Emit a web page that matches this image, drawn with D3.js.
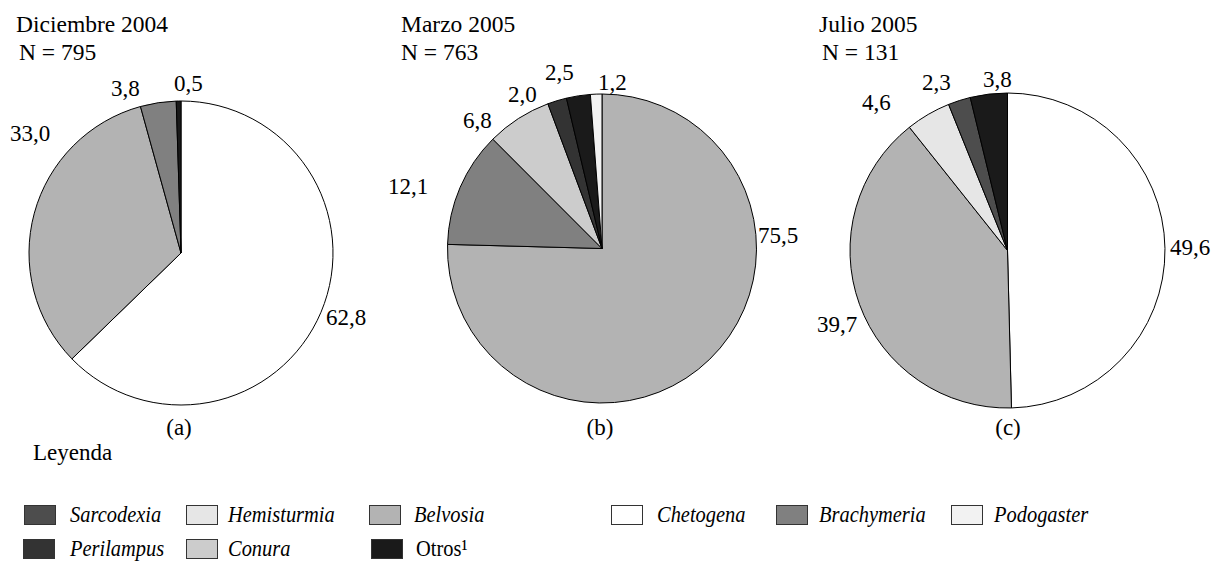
<!DOCTYPE html>
<html>
<head>
<meta charset="utf-8">
<script src="https://cdn.jsdelivr.net/npm/d3@7/dist/d3.min.js"></script>
<style>
  html, body { margin: 0; padding: 0; background: #fff; }
  svg { display: block; }
</style>
</head>
<body>
<svg id="chart" width="1225" height="562"></svg>
<script>
// ---------- DATA ----------
const species = ["Sarcodexia", "Hemisturmia", "Belvosia", "Chetogena", "Brachymeria", "Podogaster", "Perilampus", "Conura", "Otros"];
const speciesColors = ["#4d4d4d", "#e6e6e6", "#b3b3b3", "#ffffff", "#808080", "#f2f2f2", "#333333", "#cccccc", "#1a1a1a"];

const titles = ["Diciembre 2004", "Marzo 2005", "Julio 2005"];
const sampleSizes = [795, 763, 131];
const panelLetters = ["(a)", "(b)", "(c)"];

const dic2004Cats = ["Chetogena", "Belvosia", "Brachymeria", "Otros"];
const dic2004Vals = [62.8, 33.0, 3.8, 0.5];

const mar2005Cats = ["Belvosia", "Brachymeria", "Conura", "Perilampus", "Otros", "Podogaster"];
const mar2005Vals = [75.5, 12.1, 6.8, 2.0, 2.5, 1.2];

const jul2005Cats = ["Chetogena", "Belvosia", "Hemisturmia", "Sarcodexia", "Otros"];
const jul2005Vals = [49.6, 39.7, 4.6, 2.3, 3.8];

// ---------- LAYOUT ----------
const FONT = "'Liberation Serif', 'Times New Roman', Tinos, serif";
const panels = [
  { cats: dic2004Cats, vals: dic2004Vals, cx: 181, cy: 253, r: 152, titleX: 16, nX: 19, letterX: 179,
    labels: [[326, 325], [10, 141], [111, 96], [174, 91]] },
  { cats: mar2005Cats, vals: mar2005Vals, cx: 602, cy: 248.5, r: 154.5, titleX: 401, nX: 401, letterX: 600,
    labels: [[758, 243], [388, 194], [463, 128], [508, 102], [545, 80], [598, 90]] },
  { cats: jul2005Cats, vals: jul2005Vals, cx: 1007.5, cy: 250.5, r: 157.5, titleX: 819, nX: 822, letterX: 1008,
    labels: [[1170, 255], [817, 332], [862, 110], [922, 90], [983, 87]] }
];

const legendItems = [
  { name: "Sarcodexia", sx: 24, tx: 70, row: 0, italic: true },
  { name: "Hemisturmia", sx: 186, tx: 228, row: 0, italic: true },
  { name: "Belvosia", sx: 369, tx: 414, row: 0, italic: true },
  { name: "Chetogena", sx: 611, tx: 657, row: 0, italic: true },
  { name: "Brachymeria", sx: 776, tx: 819, row: 0, italic: true },
  { name: "Podogaster", sx: 951, tx: 994, row: 0, italic: true },
  { name: "Perilampus", sx: 23, tx: 70, row: 1, italic: true },
  { name: "Conura", sx: 186, tx: 228, row: 1, italic: true },
  { name: "Otros", sx: 371, tx: 416, row: 1, italic: false, sup: "\u00B9" }
];

// ---------- DRAW ----------
const svg = d3.select("#chart");
const color = d3.scaleOrdinal().domain(species).range(speciesColors);
const fmt = v => d3.format(".1f")(v).replace(".", ",");

panels.forEach((p, i) => {
  const data = p.cats.map((c, k) => ({ cat: c, v: p.vals[k] }));
  const pie = d3.pie().sort(null).value(d => d.v).startAngle(0).endAngle(2 * Math.PI);
  const arc = d3.arc().innerRadius(0).outerRadius(p.r);
  const g = svg.append("g").attr("transform", `translate(${p.cx},${p.cy})`);
  g.selectAll("path").data(pie(data)).join("path")
    .attr("d", arc)
    .attr("fill", d => color(d.data.cat))
    .attr("stroke", "#000")
    .attr("stroke-width", 1)
    .attr("stroke-linejoin", "round");

  // value labels
  svg.append("g").selectAll("text").data(data).join("text")
    .attr("x", (d, k) => p.labels[k][0])
    .attr("y", (d, k) => p.labels[k][1])
    .style("font-family", FONT)
    .attr("font-size", 23)
    .text(d => fmt(d.v));

  // titles
  svg.append("text").attr("x", p.titleX).attr("y", 31.5).style("font-family", FONT).attr("font-size", 23.5).text(titles[i]);
  svg.append("text").attr("x", p.nX).attr("y", 60).style("font-family", FONT).attr("font-size", 23.5).text("N = " + sampleSizes[i]);
  svg.append("text").attr("x", p.letterX).attr("y", 435).style("font-family", FONT).attr("font-size", 23)
    .attr("text-anchor", "middle").text(panelLetters[i]);
});

svg.append("text").attr("x", 33).attr("y", 460).style("font-family", FONT).attr("font-size", 23).text("Leyenda");

// legend
const rowSwatchY = [505, 539];
const rowTextY = [522, 556];
const lg = svg.append("g");
legendItems.forEach(it => {
  lg.append("rect")
    .attr("x", it.sx + 0.5).attr("y", rowSwatchY[it.row] + 0.5)
    .attr("width", 31).attr("height", 19)
    .attr("fill", color(it.name))
    .attr("stroke", "#333").attr("stroke-width", 1);
  lg.append("text")
    .attr("transform", `translate(${it.tx},${rowTextY[it.row]}) scale(0.87,1)`)
    .style("font-family", FONT)
    .attr("font-size", 23.5)
    .attr("font-style", it.italic ? "italic" : "normal")
    .text(it.name + (it.sup || ""));
});
</script>
</body>
</html>
